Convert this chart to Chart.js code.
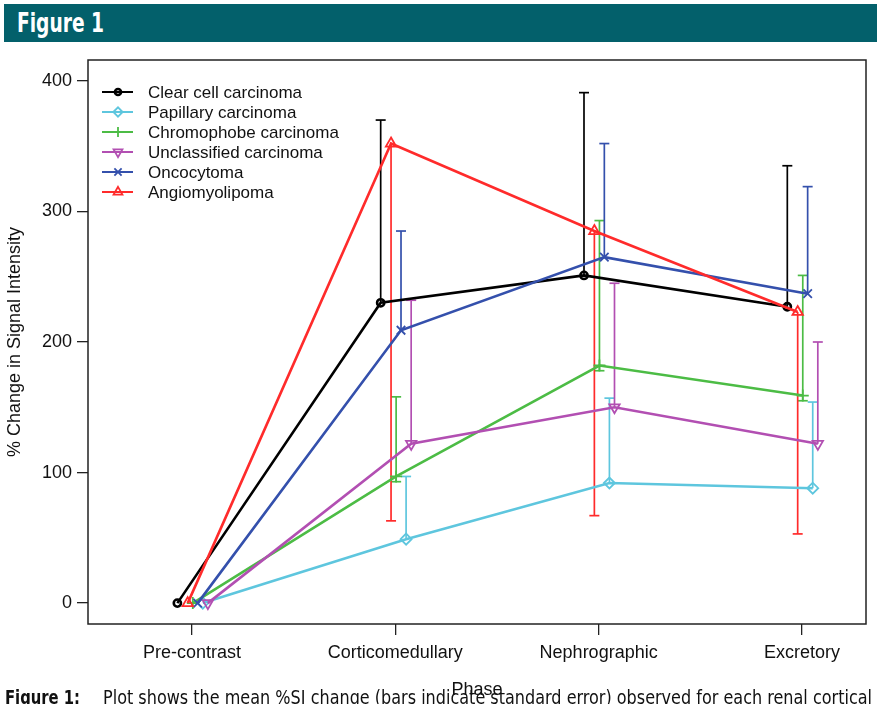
<!DOCTYPE html>
<html><head><meta charset="utf-8">
<script src="https://cdn.jsdelivr.net/npm/chart.js@4/dist/chart.umd.min.js"></script>
<style>
html,body{margin:0;padding:0;background:#fff;}
#wrap{position:relative;width:877px;height:704px;overflow:hidden;background:#fff;}
#c{position:absolute;left:0;top:0;}
#hdr{position:absolute;left:4px;top:4px;width:873px;height:38px;background:#03606b;}
#hdrTxt{position:absolute;left:13px;top:5px;color:#fff;font:bold 26px 'Liberation Sans Narrow','DejaVu Sans Condensed','Liberation Sans',sans-serif;transform-origin:0 0;white-space:nowrap;line-height:28px;}
.cap{position:absolute;top:686px;font-size:20px;line-height:22px;color:#111;white-space:nowrap;transform-origin:0 0;font-family:'Liberation Sans Narrow','DejaVu Sans Condensed','Liberation Sans',sans-serif;}
#capB{left:5px;font-weight:bold;}
#capT{left:103px;}
</style></head>
<body><div id="wrap">
<canvas id="c" width="877" height="704"></canvas>
<div id="hdr"><span id="hdrTxt">Figure 1</span></div>
<div id="capB" class="cap">Figure 1:</div>
<div id="capT" class="cap">Plot shows the mean %SI change (bars indicate standard error) observed for each renal cortical</div>
</div>
<script>
// ---- data ----
const phases = ['Pre-contrast', 'Corticomedullary', 'Nephrographic', 'Excretory'];
const yTicks = [0, 100, 200, 300, 400];
const seriesNames = ['Clear cell carcinoma', 'Papillary carcinoma', 'Chromophobe carcinoma', 'Unclassified carcinoma', 'Oncocytoma', 'Angiomyolipoma'];

const clearCell      = [0, 230, 251, 227];
const clearCellLow   = [null, 230, 251, 227];
const clearCellHigh  = [null, 370, 391, 335];

const papillary      = [0, 49, 92, 88];
const papillaryLow   = [null, 49, 92, 88];
const papillaryHigh  = [null, 97, 157, 154];

const chromophobe     = [0, 97, 182, 159];
const chromophobeLow  = [null, 93, 178, 155];
const chromophobeHigh = [null, 158, 293, 251];

const unclassified     = [0, 122, 150, 122];
const unclassifiedLow  = [null, 122, 150, 122];
const unclassifiedHigh = [null, 232, 245, 200];

const oncocytoma     = [0, 209, 265, 237];
const oncocytomaLow  = [null, 209, 265, 237];
const oncocytomaHigh = [null, 285, 352, 319];

const angiomyolipoma     = [0, 352, 285, 223];
const angiomyolipomaLow  = [null, 63, 67, 53];
const angiomyolipomaHigh = [null, 352, 285, 223];

// ---- style ----
const FONT = "'Liberation Sans', Arial, Helvetica, sans-serif";
const styles = [
  {color:'#000000', jitter:-0.072, pointStyle:'circle',   rotation:0,   radius:3.6, bw:2.6, order:6},
  {color:'#5ec6de', jitter: 0.053, pointStyle:'rectRot',  rotation:0,   radius:5.5, bw:1.8, order:5},
  {color:'#4cbc45', jitter: 0.004, pointStyle:'cross',    rotation:0,   radius:6,   bw:1.8, order:4},
  {color:'#b24fb2', jitter: 0.078, pointStyle:'triangle', rotation:180, radius:6,   bw:1.8, order:3},
  {color:'#3450ac', jitter: 0.028, pointStyle:'crossRot', rotation:0,   radius:6,   bw:1.8, order:2},
  {color:'#ff2b2b', jitter:-0.021, pointStyle:'triangle', rotation:0,   radius:6,   bw:1.8, order:1}
];
const seriesVals = [clearCell, papillary, chromophobe, unclassified, oncocytoma, angiomyolipoma];
const seriesLow  = [clearCellLow, papillaryLow, chromophobeLow, unclassifiedLow, oncocytomaLow, angiomyolipomaLow];
const seriesHigh = [clearCellHigh, papillaryHigh, chromophobeHigh, unclassifiedHigh, oncocytomaHigh, angiomyolipomaHigh];

const datasets = seriesNames.map((name, k) => {
  const s = styles[k];
  return {
    label: name,
    data: seriesVals[k].map((v, i) => ({x: i + s.jitter, y: v})),
    errLow: seriesLow[k], errHigh: seriesHigh[k],
    borderColor: s.color, backgroundColor: 'rgba(0,0,0,0)',
    borderWidth: 2.6, tension: 0,
    pointStyle: s.pointStyle, pointRotation: s.rotation,
    pointRadius: s.radius, pointBorderWidth: s.bw,
    pointBorderColor: s.color, pointBackgroundColor: 'rgba(0,0,0,0)',
    order: s.order, clip: false
  };
});

const errPlugin = {
  id: 'errbars',
  beforeDatasetsDraw(chart) {
    const {ctx, scales: {x, y}} = chart;
    chart.data.datasets.forEach(ds => {
      ctx.save();
      ctx.strokeStyle = ds.borderColor;
      ctx.lineWidth = 1.7;
      ds.data.forEach((p, i) => {
        const lo = ds.errLow[i], hi = ds.errHigh[i];
        if (lo == null || hi == null) return;
        const px = x.getPixelForValue(p.x);
        const pl = y.getPixelForValue(lo), ph = y.getPixelForValue(hi);
        ctx.beginPath(); ctx.moveTo(px, pl); ctx.lineTo(px, ph); ctx.stroke();
        const cap = 5;
        if (lo !== p.y) { ctx.beginPath(); ctx.moveTo(px - cap, pl); ctx.lineTo(px + cap, pl); ctx.stroke(); }
        if (hi !== p.y) { ctx.beginPath(); ctx.moveTo(px - cap, ph); ctx.lineTo(px + cap, ph); ctx.stroke(); }
      });
      ctx.restore();
    });
  }
};

const boxPlugin = {
  id: 'box',
  afterDraw(chart) {
    const {ctx, chartArea: a} = chart;
    ctx.save();
    ctx.strokeStyle = '#222';
    ctx.lineWidth = 1.5;
    ctx.strokeRect(a.left, a.top, a.right - a.left, a.bottom - a.top);
    ctx.restore();
  }
};

const legendPlugin = {
  id: 'rlegend',
  afterDraw(chart) {
    const {ctx} = chart;
    ctx.save();
    chart.data.datasets.forEach((ds, k) => {
      const yy = 92 + k * 20;
      ctx.strokeStyle = ds.borderColor;
      ctx.lineWidth = 2;
      ctx.beginPath(); ctx.moveTo(102, yy); ctx.lineTo(133, yy); ctx.stroke();
      ctx.fillStyle = 'rgba(0,0,0,0)';
      ctx.lineWidth = ds.pointBorderWidth;
      if (Chart.helpers && Chart.helpers.drawPoint) {
        Chart.helpers.drawPoint(ctx, {pointStyle: ds.pointStyle, rotation: ds.pointRotation,
          radius: ds.pointRadius * 0.85, borderWidth: ds.pointBorderWidth}, 118, yy);
      }
      ctx.fillStyle = '#111';
      ctx.font = '17px ' + FONT;
      ctx.textAlign = 'left';
      ctx.textBaseline = 'middle';
      ctx.fillText(ds.label, 148, yy + 1);
    });
    ctx.restore();
  }
};

new Chart(document.getElementById('c'), {
  type: 'line',
  data: {datasets},
  options: {
    responsive: false, animation: false, devicePixelRatio: 1,
    layout: {padding: {left: 0, top: 60, right: 11, bottom: 0}},
    plugins: {legend: {display: false}, tooltip: {enabled: false}, title: {display: false}},
    scales: {
      x: {
        type: 'linear', min: -0.5115, max: 3.315,
        afterBuildTicks: s => { s.ticks = phases.map((p, i) => ({value: i})); },
        afterFit: s => { s.height = 80; s.paddingLeft = 0; s.paddingRight = 0; },
        ticks: {callback: v => phases[v], font: {size: 18, family: FONT}, color: '#111', padding: 7, maxRotation: 0, autoSkip: false},
        grid: {drawOnChartArea: false, drawTicks: true, tickLength: 11, color: '#222', lineWidth: 1.3},
        border: {display: false},
        title: {display: true, text: 'Phase', font: {size: 18, family: FONT}, color: '#111', padding: {top: 0, bottom: 3}}
      },
      y: {
        min: -16, max: 416,
        afterBuildTicks: s => { s.ticks = yTicks.map(v => ({value: v})); },
        afterFit: s => { s.width = 88; s.paddingTop = 0; s.paddingBottom = 0; },
        ticks: {font: {size: 18, family: FONT}, color: '#111', padding: 5},
        grid: {drawOnChartArea: false, drawTicks: true, tickLength: 11, color: '#222', lineWidth: 1.3},
        border: {display: false},
        title: {display: true, text: '% Change in Signal Intensity', font: {size: 18, family: FONT}, color: '#111', padding: {top: 4, bottom: 0}}
      }
    }
  },
  plugins: [errPlugin, boxPlugin, legendPlugin]
});

// fit header/caption text widths to the reference layout
function fitWidth(id, target) {
  const el = document.getElementById(id);
  const w = el.getBoundingClientRect().width;
  if (w > 0) el.style.transform = 'scaleX(' + (target / w) + ')';
}
fitWidth('hdrTxt', 87);
fitWidth('capB', 75);
fitWidth('capT', 769);
</script>
</body></html>
